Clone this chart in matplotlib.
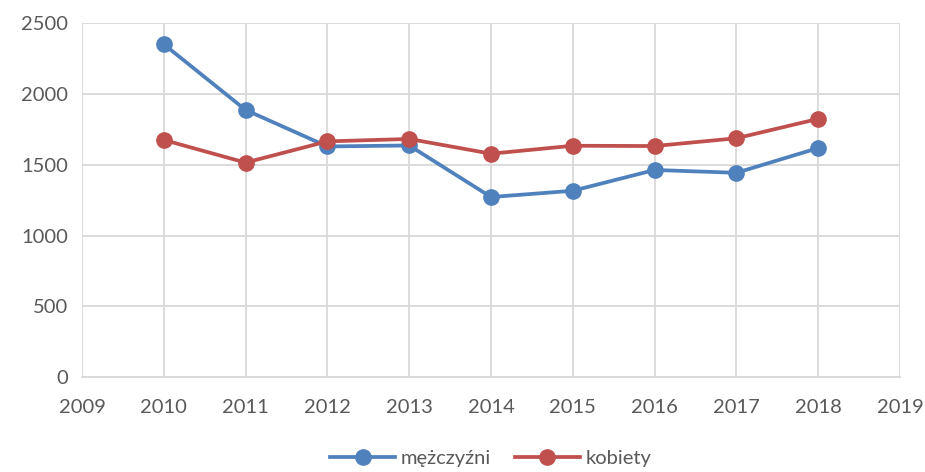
import matplotlib.pyplot as plt

years = [2010, 2011, 2012, 2013, 2014, 2015, 2016, 2017, 2018]
mezczyzni = [2351, 1887, 1629, 1636, 1272, 1316, 1463, 1443, 1618]
kobiety = [1675, 1515, 1665, 1682, 1578, 1634, 1632, 1687, 1824]
x_ticks = list(range(2009, 2020))
y_ticks = [0, 500, 1000, 1500, 2000, 2500]

plt.rcParams['font.family'] = ['Lato', 'DejaVu Sans']

fig = plt.figure(figsize=(9.25, 4.72), dpi=100)
ax = fig.add_axes([0.0886, 0.201, 0.8844, 0.75])

ax.plot(years, mezczyzni, '-o', color='#4F81BD', lw=2.7, markersize=11,
        label='mężczyźni', zorder=3)
ax.plot(years, kobiety, '-o', color='#C0504D', lw=2.7, markersize=11,
        label='kobiety', zorder=3)

ax.set_xlim(2009, 2019)
ax.set_ylim(0, 2500)
ax.set_xticks(x_ticks)
ax.set_yticks(y_ticks)
ax.grid(True, color='#D9D9D9', lw=1.3)
ax.set_axisbelow(True)
for side in ['top', 'right', 'left']:
    ax.spines[side].set_visible(False)
ax.spines['bottom'].set_color('#D9D9D9')
ax.spines['bottom'].set_linewidth(1.3)
ax.tick_params(length=0, labelsize=14.5, labelcolor='#595959')
ax.tick_params(axis='x', pad=16)
ax.tick_params(axis='y', pad=10)

leg = ax.legend(loc='lower center', bbox_to_anchor=(0.5, -0.295), ncol=2,
                frameon=False, fontsize=14.5, handlelength=3.2,
                columnspacing=1.2, handletextpad=0.3, borderpad=0.2)
for t in leg.get_texts():
    t.set_color('#595959')

fig.savefig('out.png', dpi=100)
